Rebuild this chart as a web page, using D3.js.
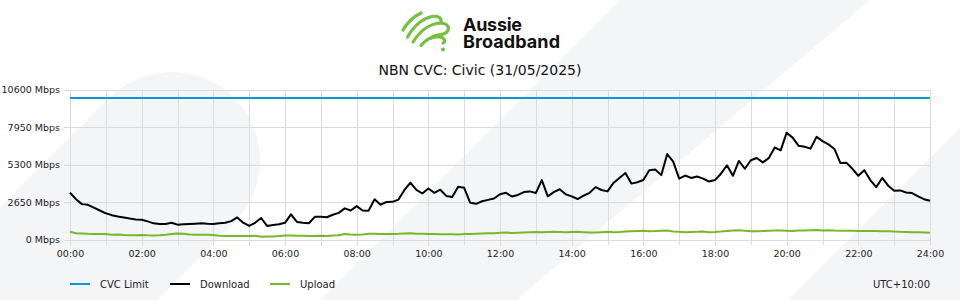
<!DOCTYPE html>
<html>
<head>
<meta charset="utf-8">
<script src="https://cdn.jsdelivr.net/npm/d3@7"></script>
<style>
  body { margin: 0; background: #fff; }
  svg { display: block; font-family: "DejaVu Sans", sans-serif; }
</style>
</head>
<body>
<svg id="chart" width="960" height="300"></svg>
<script>
// chart values (Mbps, one point every 10 minutes from 00:00 to 24:00)
const download = [
  3300, 2850, 2500, 2450, 2250, 2050, 1850, 1720, 1620, 1560,
  1480, 1420, 1390, 1280, 1140, 1090, 1100, 1180, 1050, 1080,
  1100, 1120, 1140, 1110, 1095, 1145, 1180, 1300, 1560, 1190,
  960, 1180, 1520, 960, 1020, 1080, 1180, 1780, 1240, 1180,
  1145, 1600, 1600, 1570, 1750, 1880, 2200, 2050, 2360, 2050,
  2040, 2840, 2460, 2650, 2660, 2820, 3500, 4010, 3500, 3250,
  3600, 3300, 3520, 3080, 3000, 3720, 3650, 2600, 2520, 2700,
  2800, 2900, 3200, 3300, 3040, 3150, 3350, 3400, 3280, 4200,
  3050, 3350, 3550, 3200, 3050, 2860, 3100, 3300, 3700, 3500,
  3400, 4000, 4350, 4700, 3950, 4050, 4200, 4900, 4950, 4550,
  6040, 5500, 4300, 4520, 4350, 4450, 4300, 4100, 4200, 4650,
  5250, 4500, 5550, 5000, 5600, 5760, 5450, 5750, 6500, 6300,
  7550, 7200, 6620, 6550, 6420, 7250, 6950, 6720, 6400, 5400,
  5430, 5000, 4500, 4900, 4200, 3700, 4350, 3800, 3450, 3470,
  3320, 3280, 3050, 2850, 2740
];
const upload = [
  550, 440, 420, 400, 390, 380, 390, 340, 350, 320,
  300, 300, 320, 300, 290, 300, 330, 390, 420, 400,
  350, 340, 340, 330, 320, 260, 250, 250, 250, 240,
  250, 260, 200, 220, 210, 240, 280, 290, 270, 260,
  250, 240, 260, 250, 290, 300, 380, 350, 340, 360,
  400, 410, 390, 380, 390, 400, 420, 440, 400, 400,
  390, 380, 370, 370, 370, 360, 380, 380, 400, 420,
  440, 450, 480, 490, 460, 480, 500, 520, 530, 520,
  530, 540, 530, 520, 530, 540, 520, 500, 490, 520,
  540, 520, 530, 560, 580, 600, 610, 590, 600, 620,
  630, 570, 540, 520, 530, 540, 560, 520, 530, 560,
  600, 640, 650, 620, 580, 590, 600, 620, 640, 630,
  620, 600, 630, 640, 660, 670, 640, 660, 630, 620,
  610, 610, 600, 600, 600, 600, 590, 590, 560, 540,
  530, 520, 520, 500, 480
];
const cvcHours = [0, 24];
const cvcLimit = [10000, 10000];

const yTicks = [0, 2650, 5300, 7950, 10600];
const xTickHours = [0, 2, 4, 6, 8, 10, 12, 14, 16, 18, 20, 22, 24];
const xTickLabels = ['00:00', '02:00', '04:00', '06:00', '08:00', '10:00', '12:00',
  '14:00', '16:00', '18:00', '20:00', '22:00', '24:00'];
const gridHours = d3.range(0, 25);

const seriesNames = ['CVC Limit', 'Download', 'Upload'];
const seriesColors = ['#0a97d9', '#000000', '#76b82a'];

const svg = d3.select('#chart');
const bg = '#f4f5f7';

// background decoration
svg.append('rect').attr('width', 960).attr('height', 300).attr('fill', '#fff');
svg.append('line')
  .attr('x1', -80).attr('y1', 412).attr('x2', 172).attr('y2', 160)
  .attr('stroke', bg).attr('stroke-width', 176).attr('stroke-linecap', 'round');
svg.append('path').attr('fill', bg)
  .attr('d', 'M620,0 L870,0 L516,300 L320,300 Z');
svg.append('path').attr('fill', bg)
  .attr('d', 'M960,128 L960,300 L788,300 Z');

// logo
const logo = svg.append('g');
const green = '#74c043';
[
  'M403,30 C407,23 413,17 421,13',
  'M407.5,37 C414,26 422,18.5 432,16.5 C438,15.5 442,18 441,22',
  'M413,42 C420,31 430,23.5 440,23 C447.5,23 450.5,28 447,32 C443,36 435.5,33.5 431.5,37.5',
  'M421,45.5 C426,39 432,36 440,37 C445.5,38 445.5,42 443,43'
].forEach(d => logo.append('path').attr('d', d).attr('fill', 'none')
  .attr('stroke', green).attr('stroke-width', 3.2).attr('stroke-linecap', 'round'));
logo.append('circle').attr('cx', 443).attr('cy', 49.5).attr('r', 2).attr('fill', green);
logo.append('text').attr('x', 463).attr('y', 30.5)
  .attr('font-family', 'Inter, sans-serif').attr('font-weight', 700).attr('font-size', 18)
  .attr('textLength', 59).attr('fill', '#111').text('Aussie');
logo.append('text').attr('x', 463).attr('y', 48)
  .attr('font-family', 'Inter, sans-serif').attr('font-weight', 700).attr('font-size', 18)
  .attr('textLength', 97).attr('fill', '#111').text('Broadband');

svg.append('text').attr('x', 480).attr('y', 75).attr('text-anchor', 'middle')
  .attr('font-size', 14).attr('fill', '#111').text('NBN CVC: Civic (31/05/2025)');

// scales
const x = d3.scaleLinear().domain([0, 24]).range([70, 930]);
const y = d3.scaleLinear().domain([0, 10600]).range([239.5, 89.5]);

// grid
const grid = svg.append('g').attr('stroke', '#dcdcdc').attr('stroke-width', 1);
grid.selectAll('.v').data(gridHours).enter().append('line')
  .attr('x1', d => Math.round(x(d)) + 0.5).attr('x2', d => Math.round(x(d)) + 0.5)
  .attr('y1', y(10600)).attr('y2', y(0) + 6);
grid.selectAll('.h').data(yTicks).enter().append('line')
  .attr('y1', d => Math.round(y(d)) + 0.5).attr('y2', d => Math.round(y(d)) + 0.5)
  .attr('x1', x(0) - 6).attr('x2', x(24));

// axes (labels only)
const xAxis = svg.append('g').attr('transform', 'translate(0,' + (y(0) + 6) + ')')
  .call(d3.axisBottom(x).tickValues(xTickHours).tickSize(0).tickPadding(5)
    .tickFormat((d, i) => xTickLabels[i]));
const yAxis = svg.append('g').attr('transform', 'translate(' + (x(0) - 6) + ',0)')
  .call(d3.axisLeft(y).tickValues(yTicks).tickSize(0).tickPadding(4)
    .tickFormat(d => d + ' Mbps'));
[xAxis, yAxis].forEach(a => {
  a.select('.domain').remove();
  a.selectAll('text').attr('font-family', '"DejaVu Sans", sans-serif')
    .attr('font-size', 9.5).attr('fill', '#222');
});

// series
const hours = download.map((d, i) => i / 6);
const line = d3.line().x(d => x(d[0])).y(d => y(d[1]));

svg.append('path').datum(cvcHours.map((h, i) => [h, cvcLimit[i]]))
  .attr('d', line).attr('fill', 'none')
  .attr('stroke', seriesColors[0]).attr('stroke-width', 2);
svg.append('path').datum(hours.map((h, i) => [h, upload[i]]))
  .attr('d', line).attr('fill', 'none')
  .attr('stroke', seriesColors[2]).attr('stroke-width', 2);
svg.append('path').datum(hours.map((h, i) => [h, download[i]]))
  .attr('d', line).attr('fill', 'none').attr('stroke-linejoin', 'round')
  .attr('stroke', seriesColors[1]).attr('stroke-width', 2);

// legend
const legend = svg.append('g');
seriesNames.forEach((name, i) => {
  const lx = 70 + i * 100;
  legend.append('line').attr('x1', lx).attr('x2', lx + 20).attr('y1', 284).attr('y2', 284)
    .attr('stroke', seriesColors[i]).attr('stroke-width', 2);
  legend.append('text').attr('x', lx + 30).attr('y', 287.5)
    .attr('font-size', 10).attr('fill', '#222').text(name);
});
svg.append('text').attr('x', 930).attr('y', 287.5).attr('text-anchor', 'end')
  .attr('font-size', 10).attr('fill', '#222').text('UTC+10:00');
</script>
</body>
</html>
